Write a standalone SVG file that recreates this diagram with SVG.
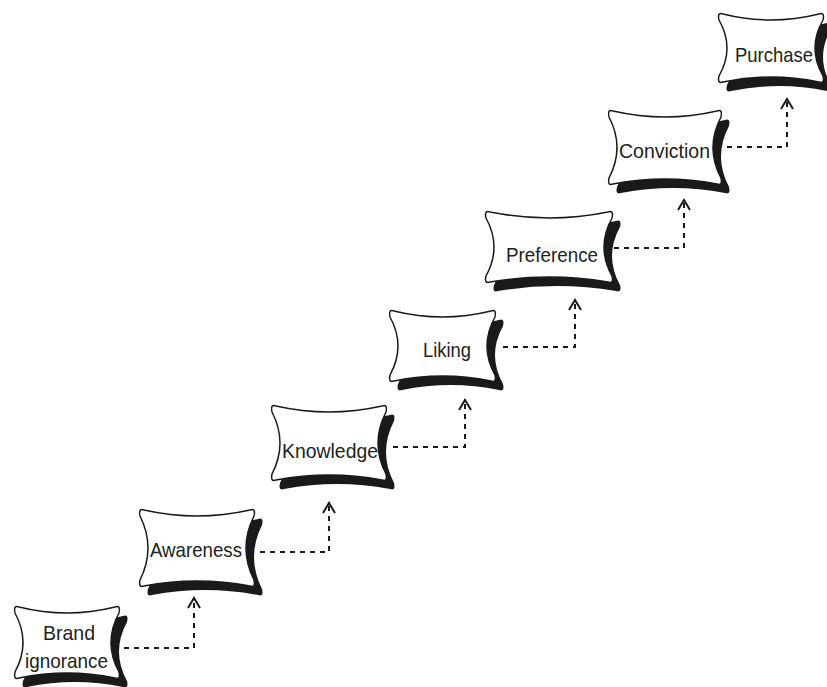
<svg xmlns="http://www.w3.org/2000/svg" width="827" height="687" viewBox="0 0 827 687">
<style>
.bg{fill:#fff}
.sh{fill:#1a1a1a;stroke:none}
.bx{fill:#fff;stroke:#1a1a1a;stroke-width:1.5;stroke-linejoin:round}
.t{font-family:"Liberation Sans",Arial,sans-serif;font-size:21px;fill:#222;text-anchor:middle}
.c{fill:none;stroke:#1a1a1a;stroke-width:2;stroke-dasharray:5,5;marker-end:url(#arr)}
</style>
<defs>
<marker id="arr" viewBox="-12 -8 14 16" refX="0" refY="0" markerWidth="14" markerHeight="16" markerUnits="userSpaceOnUse" orient="auto">
<path d="M-10,-6 L0,0 L-10,6" fill="none" stroke="#1a1a1a" stroke-width="2"/>
</marker>
</defs>
<rect class="bg" width="827" height="687"/>
<g id="connectors">
<path class="c" d="M124,648 H194 V598"/>
<path class="c" d="M260,552 H329 V503"/>
<path class="c" d="M393,447 H465 V400"/>
<path class="c" d="M503,347 H575 V300"/>
<path class="c" d="M614,248 H684 V200"/>
<path class="c" d="M727,147 H787 V99"/>
</g>
<g id="brand-ignorance">
<path class="sh" transform="translate(21,614)" d="M6,2 Q54,14 102,2 Q108,0 106,8 Q90,37.5 106,67 Q108,75 102,73 Q54,63 6,73 Q0,75 2,67 Q18,37.5 2,8 Q0,0 6,2Z"/>
<path class="bx" transform="translate(13,605)" d="M6,2 Q54,14 102,2 Q108,0 106,8 Q90,37.5 106,67 Q108,75 102,73 Q54,63 6,73 Q0,75 2,67 Q18,37.5 2,8 Q0,0 6,2Z"/>
<text class="t" x="69" y="640" textLength="52" lengthAdjust="spacingAndGlyphs">Brand</text>
<text class="t" x="66.5" y="668" textLength="83" lengthAdjust="spacingAndGlyphs">ignorance</text>
</g>
<g id="awareness">
<path class="sh" transform="translate(146,517)" d="M6,2 Q59,14 112,2 Q118,0 116,8 Q100,40 116,72 Q118,80 112,78 Q59,68 6,78 Q0,80 2,72 Q18,40 2,8 Q0,0 6,2Z"/>
<path class="bx" transform="translate(138,508)" d="M6,2 Q59,14 112,2 Q118,0 116,8 Q100,40 116,72 Q118,80 112,78 Q59,68 6,78 Q0,80 2,72 Q18,40 2,8 Q0,0 6,2Z"/>
<text class="t" x="196" y="557" textLength="92" lengthAdjust="spacingAndGlyphs">Awareness</text>
</g>
<g id="knowledge">
<path class="sh" transform="translate(278,413)" d="M6,2 Q59,14 112,2 Q118,0 116,8 Q100,39 116,70 Q118,78 112,76 Q59,66 6,76 Q0,78 2,70 Q18,39 2,8 Q0,0 6,2Z"/>
<path class="bx" transform="translate(270,404)" d="M6,2 Q59,14 112,2 Q118,0 116,8 Q100,39 116,70 Q118,78 112,76 Q59,66 6,76 Q0,78 2,70 Q18,39 2,8 Q0,0 6,2Z"/>
<text class="t" x="330" y="458" textLength="96" lengthAdjust="spacingAndGlyphs">Knowledge</text>
</g>
<g id="liking">
<path class="sh" transform="translate(396,318)" d="M6,2 Q54.5,14 103,2 Q109,0 107,8 Q91,37 107,66 Q109,74 103,72 Q54.5,62 6,72 Q0,74 2,66 Q18,37 2,8 Q0,0 6,2Z"/>
<path class="bx" transform="translate(388,309)" d="M6,2 Q54.5,14 103,2 Q109,0 107,8 Q91,37 107,66 Q109,74 103,72 Q54.5,62 6,72 Q0,74 2,66 Q18,37 2,8 Q0,0 6,2Z"/>
<text class="t" x="447" y="357" textLength="48" lengthAdjust="spacingAndGlyphs">Liking</text>
</g>
<g id="preference">
<path class="sh" transform="translate(492,219)" d="M6,2 Q65,14 124,2 Q130,0 128,8 Q112,37 128,66 Q130,74 124,72 Q65,62 6,72 Q0,74 2,66 Q18,37 2,8 Q0,0 6,2Z"/>
<path class="bx" transform="translate(484,210)" d="M6,2 Q65,14 124,2 Q130,0 128,8 Q112,37 128,66 Q130,74 124,72 Q65,62 6,72 Q0,74 2,66 Q18,37 2,8 Q0,0 6,2Z"/>
<text class="t" x="552" y="262" textLength="92" lengthAdjust="spacingAndGlyphs">Preference</text>
</g>
<g id="conviction">
<path class="sh" transform="translate(615,118)" d="M6,2 Q58,14 110,2 Q116,0 114,8 Q98,38.5 114,69 Q116,77 110,75 Q58,65 6,75 Q0,77 2,69 Q18,38.5 2,8 Q0,0 6,2Z"/>
<path class="bx" transform="translate(607,109)" d="M6,2 Q58,14 110,2 Q116,0 114,8 Q98,38.5 114,69 Q116,77 110,75 Q58,65 6,75 Q0,77 2,69 Q18,38.5 2,8 Q0,0 6,2Z"/>
<text class="t" x="664.5" y="158" textLength="91" lengthAdjust="spacingAndGlyphs">Conviction</text>
</g>
<g id="purchase">
<path class="sh" transform="translate(725,21)" d="M6,2 Q54,14 102,2 Q108,0 106,8 Q90,36 106,64 Q108,72 102,70 Q54,60 6,70 Q0,72 2,64 Q18,36 2,8 Q0,0 6,2Z"/>
<path class="bx" transform="translate(717,12)" d="M6,2 Q54,14 102,2 Q108,0 106,8 Q90,36 106,64 Q108,72 102,70 Q54,60 6,70 Q0,72 2,64 Q18,36 2,8 Q0,0 6,2Z"/>
<text class="t" x="774" y="62" textLength="78" lengthAdjust="spacingAndGlyphs">Purchase</text>
</g>
</svg>
